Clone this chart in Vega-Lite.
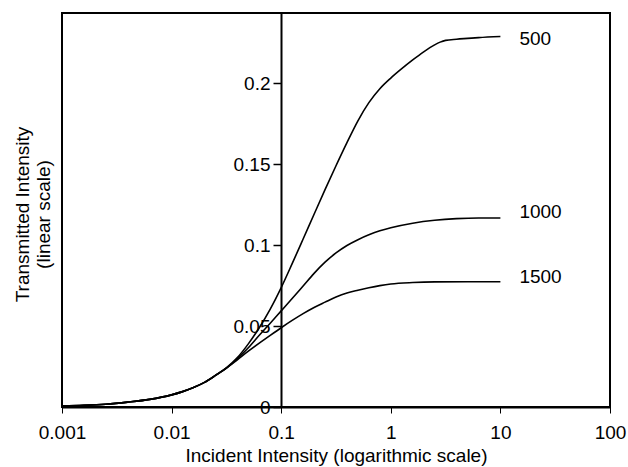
{
  "$schema": "https://vega.github.io/schema/vega-lite/v6.json",
  "autosize": "none",
  "width": 548,
  "height": 394,
  "padding": {"left": 62, "top": 13, "right": 18, "bottom": 60},
  "background": "white",
  "config": {
    "view": {"stroke": "black", "strokeWidth": 2},
    "font": "Liberation Sans",
    "axis": {"grid": false, "domainColor": "black", "tickColor": "black", "labelColor": "black", "titleColor": "black", "labelFont": "Liberation Sans", "titleFont": "Liberation Sans", "labelFontSize": 19, "titleFontSize": 19, "titleFontWeight": "normal", "labelFlush": false, "labelOverlap": false}
  },
  "datasets": {
    "curves": [
      {"x": 0.001, "y": 0.0006, "s": "500"}, {"x": 0.001585, "y": 0.0010, "s": "500"}, {"x": 0.002512, "y": 0.0017, "s": "500"}, {"x": 0.003981, "y": 0.0030, "s": "500"}, {"x": 0.00631, "y": 0.0047, "s": "500"}, {"x": 0.01, "y": 0.0075, "s": "500"}, {"x": 0.012589, "y": 0.0095, "s": "500"}, {"x": 0.015849, "y": 0.0120, "s": "500"}, {"x": 0.019953, "y": 0.0152, "s": "500"}, {"x": 0.025119, "y": 0.0195, "s": "500"}, {"x": 0.031623, "y": 0.0242, "s": "500"}, {"x": 0.039811, "y": 0.0305, "s": "500"}, {"x": 0.050119, "y": 0.0390, "s": "500"}, {"x": 0.063096, "y": 0.0490, "s": "500"}, {"x": 0.079433, "y": 0.0605, "s": "500"}, {"x": 0.1, "y": 0.0738, "s": "500"}, {"x": 0.125893, "y": 0.0886, "s": "500"}, {"x": 0.158489, "y": 0.1038, "s": "500"}, {"x": 0.199526, "y": 0.1191, "s": "500"}, {"x": 0.251189, "y": 0.1343, "s": "500"}, {"x": 0.316228, "y": 0.1491, "s": "500"}, {"x": 0.398107, "y": 0.1634, "s": "500"}, {"x": 0.501187, "y": 0.1769, "s": "500"}, {"x": 0.630957, "y": 0.1881, "s": "500"}, {"x": 0.794328, "y": 0.1967, "s": "500"}, {"x": 1, "y": 0.2033, "s": "500"}, {"x": 1.258925, "y": 0.2091, "s": "500"}, {"x": 1.584893, "y": 0.2145, "s": "500"}, {"x": 1.995262, "y": 0.2195, "s": "500"}, {"x": 2.511886, "y": 0.2238, "s": "500"}, {"x": 2.818383, "y": 0.2255, "s": "500"}, {"x": 3.162278, "y": 0.2266, "s": "500"}, {"x": 3.981072, "y": 0.2273, "s": "500"}, {"x": 5.011872, "y": 0.2278, "s": "500"}, {"x": 6.309573, "y": 0.2283, "s": "500"}, {"x": 10, "y": 0.2290, "s": "500"},
      {"x": 0.001, "y": 0.0006, "s": "1000"}, {"x": 0.001585, "y": 0.0010, "s": "1000"}, {"x": 0.002512, "y": 0.0017, "s": "1000"}, {"x": 0.003981, "y": 0.0030, "s": "1000"}, {"x": 0.00631, "y": 0.0047, "s": "1000"}, {"x": 0.01, "y": 0.0075, "s": "1000"}, {"x": 0.012589, "y": 0.0095, "s": "1000"}, {"x": 0.015849, "y": 0.0120, "s": "1000"}, {"x": 0.019953, "y": 0.0152, "s": "1000"}, {"x": 0.025119, "y": 0.0195, "s": "1000"}, {"x": 0.031623, "y": 0.0241, "s": "1000"}, {"x": 0.039811, "y": 0.0298, "s": "1000"}, {"x": 0.050119, "y": 0.0366, "s": "1000"}, {"x": 0.063096, "y": 0.0443, "s": "1000"}, {"x": 0.079433, "y": 0.0518, "s": "1000"}, {"x": 0.1, "y": 0.0594, "s": "1000"}, {"x": 0.125893, "y": 0.0670, "s": "1000"}, {"x": 0.158489, "y": 0.0748, "s": "1000"}, {"x": 0.199526, "y": 0.0826, "s": "1000"}, {"x": 0.251189, "y": 0.0895, "s": "1000"}, {"x": 0.316228, "y": 0.0952, "s": "1000"}, {"x": 0.398107, "y": 0.0998, "s": "1000"}, {"x": 0.501187, "y": 0.1034, "s": "1000"}, {"x": 0.630957, "y": 0.1064, "s": "1000"}, {"x": 0.794328, "y": 0.1089, "s": "1000"}, {"x": 1, "y": 0.1108, "s": "1000"}, {"x": 1.584893, "y": 0.1136, "s": "1000"}, {"x": 2.511886, "y": 0.1154, "s": "1000"}, {"x": 3.981072, "y": 0.1164, "s": "1000"}, {"x": 6.309573, "y": 0.1168, "s": "1000"}, {"x": 10, "y": 0.1168, "s": "1000"},
      {"x": 0.001, "y": 0.0006, "s": "1500"}, {"x": 0.001585, "y": 0.0010, "s": "1500"}, {"x": 0.002512, "y": 0.0017, "s": "1500"}, {"x": 0.003981, "y": 0.0030, "s": "1500"}, {"x": 0.00631, "y": 0.0047, "s": "1500"}, {"x": 0.01, "y": 0.0075, "s": "1500"}, {"x": 0.012589, "y": 0.0095, "s": "1500"}, {"x": 0.015849, "y": 0.0120, "s": "1500"}, {"x": 0.019953, "y": 0.0152, "s": "1500"}, {"x": 0.025119, "y": 0.0195, "s": "1500"}, {"x": 0.031623, "y": 0.0240, "s": "1500"}, {"x": 0.039811, "y": 0.0292, "s": "1500"}, {"x": 0.050119, "y": 0.0345, "s": "1500"}, {"x": 0.063096, "y": 0.0395, "s": "1500"}, {"x": 0.079433, "y": 0.0443, "s": "1500"}, {"x": 0.1, "y": 0.0490, "s": "1500"}, {"x": 0.125893, "y": 0.0535, "s": "1500"}, {"x": 0.158489, "y": 0.0577, "s": "1500"}, {"x": 0.199526, "y": 0.0615, "s": "1500"}, {"x": 0.251189, "y": 0.0648, "s": "1500"}, {"x": 0.316228, "y": 0.0680, "s": "1500"}, {"x": 0.398107, "y": 0.0705, "s": "1500"}, {"x": 0.501187, "y": 0.0722, "s": "1500"}, {"x": 0.630957, "y": 0.0737, "s": "1500"}, {"x": 0.794328, "y": 0.0750, "s": "1500"}, {"x": 1, "y": 0.0760, "s": "1500"}, {"x": 1.584893, "y": 0.0769, "s": "1500"}, {"x": 2.511886, "y": 0.0773, "s": "1500"}, {"x": 5.011872, "y": 0.0774, "s": "1500"}, {"x": 10, "y": 0.0774, "s": "1500"}
    ],
    "labels": [
      {"x": 14.9, "y": 0.2277, "label": "500"},
      {"x": 14.9, "y": 0.1206, "label": "1000"},
      {"x": 14.9, "y": 0.0804, "label": "1500"}
    ]
  },
  "layer": [
    {
      "data": {"name": "curves"},
      "mark": {"type": "line", "interpolate": "monotone", "color": "black", "strokeWidth": 1.6},
      "encoding": {
        "x": {
          "field": "x", "type": "quantitative",
          "scale": {"type": "log", "domain": [0.001, 100], "nice": false},
          "axis": {"values": [0.001, 0.01, 0.1, 1, 10, 100], "format": "~g", "title": "Incident Intensity (logarithmic scale)", "tickSize": 6, "labelPadding": 10, "domainWidth": 2, "tickWidth": 1, "titleBaseline": "alphabetic", "titleY": 54}
        },
        "y": {
          "field": "y", "type": "quantitative",
          "scale": {"domain": [0, 0.2435], "nice": false, "zero": true},
          "axis": {"values": [0, 0.05, 0.1, 0.15, 0.2], "format": "~g", "offset": -219, "domainWidth": 2, "tickSize": 8, "tickWidth": 1.5, "labelPadding": 3, "title": ["Transmitted Intensity", "(linear scale)"], "titleX": -259, "titleY": 201, "titleBaseline": "middle", "titleLineHeight": 21}
        },
        "detail": {"field": "s"}
      }
    },
    {
      "data": {"name": "labels"},
      "mark": {"type": "text", "align": "left", "baseline": "middle", "font": "Liberation Sans", "fontSize": 19, "color": "black"},
      "encoding": {
        "x": {"field": "x", "type": "quantitative"},
        "y": {"field": "y", "type": "quantitative"},
        "text": {"field": "label"}
      }
    }
  ]
}
